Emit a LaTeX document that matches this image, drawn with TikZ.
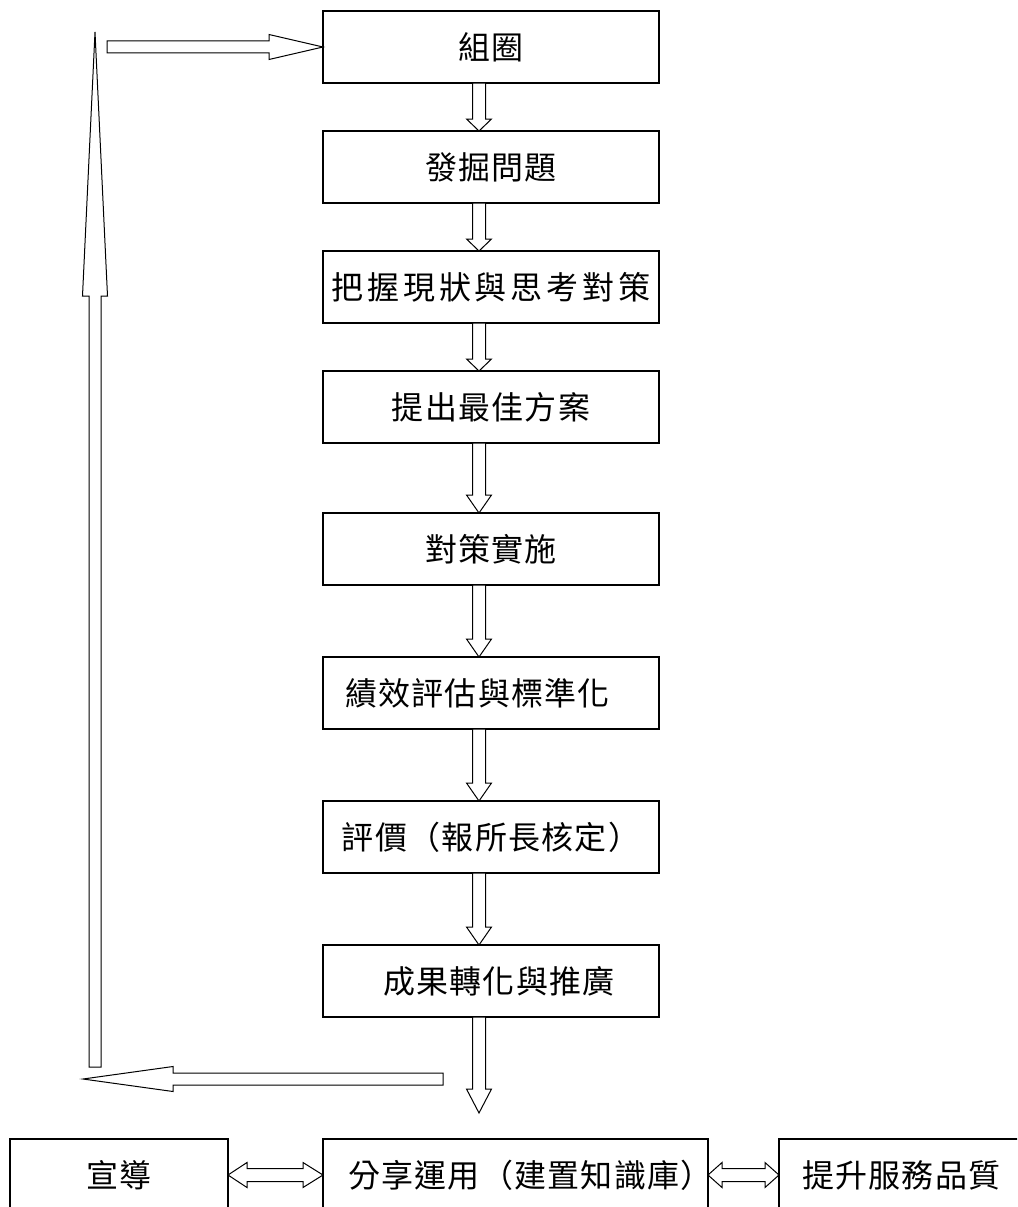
\documentclass[tikz,border=0pt]{standalone}
\usepackage{fontspec}
\newfontfamily\cjk[LetterSpace=4]{Noto Sans CJK TC}
\usetikzlibrary{calc}
\newcommand{\DownBlock}[3]{%
  \draw[blockarrow] let \p1=#1, \p2=#2 in
    (\x1-6.5pt,\y1) -- (\x1-6.5pt,\y2+#3pt) -- (\x1-12.5pt,\y2+#3pt) -- (\x2,\y2)
    -- (\x1+12.5pt,\y2+#3pt) -- (\x1+6.5pt,\y2+#3pt) -- (\x1+6.5pt,\y1) -- cycle;}
\newcommand{\UpBlock}[3]{%
  \draw[blockarrow] let \p1=#1, \p2=#2 in
    (\x1-6pt,\y1) -- (\x1-6pt,\y2-#3pt) -- (\x1-12.5pt,\y2-#3pt) -- (\x2,\y2)
    -- (\x1+12.5pt,\y2-#3pt) -- (\x1+6pt,\y2-#3pt) -- (\x1+6pt,\y1) -- cycle;}
\newcommand{\LeftBlock}[3]{%
  \draw[blockarrow] let \p1=#1, \p2=#2 in
    (\x1,\y1+6pt) -- (\x2+#3pt,\y1+6pt) -- (\x2+#3pt,\y1+12.5pt) -- (\x2,\y2)
    -- (\x2+#3pt,\y1-12.5pt) -- (\x2+#3pt,\y1-6pt) -- (\x1,\y1-6pt) -- cycle;}
\newcommand{\RightBlock}[3]{%
  \draw[blockarrow] let \p1=#1, \p2=#2 in
    (\x1,\y1+6pt) -- (\x2-#3pt,\y1+6pt) -- (\x2-#3pt,\y1+12.5pt) -- (\x2,\y2)
    -- (\x2-#3pt,\y1-12.5pt) -- (\x2-#3pt,\y1-6pt) -- (\x1,\y1-6pt) -- cycle;}
\newcommand{\DoubleBlock}[4]{%
  \draw[blockarrow] let \p1=#1, \p2=#2 in
    (\x1,\y1) -- (\x1+#3pt,\y1+12.5pt) -- (\x1+#3pt,\y1+6.5pt) -- (\x2-#4pt,\y1+6.5pt)
    -- (\x2-#4pt,\y1+12.5pt) -- (\x2,\y2) -- (\x2-#4pt,\y1-12.5pt) -- (\x2-#4pt,\y1-6.5pt)
    -- (\x1+#3pt,\y1-6.5pt) -- (\x1+#3pt,\y1-12.5pt) -- cycle;}
\begin{document}
\begin{tikzpicture}[x=1pt,y=-1pt,
  box/.style={draw, line width=1.1pt, minimum width=336pt, minimum height=72pt,
    inner sep=0pt, outer sep=0pt, font=\cjk\fontsize{32}{38}\selectfont},
  blockarrow/.style={draw, fill=white, line width=1pt, line join=miter}]
\path[use as bounding box] (0,0) rectangle (1017,1207);
\begin{scope}
\clip (0,0) rectangle (1017,1207);
\coordinate (ax) at (479,0);
\node[box] (b1) at (491,47) {組圈};
\node[box] (b2) at (491,167) {發掘問題};
\node[box] (b3) at (491,287) {{\addfontfeatures{LetterSpace=12}把握現狀與思考對策}};
\node[box] (b4) at (491,407) {提出最佳方案};
\node[box] (b5) at (491,549) {對策實施};
\node[box, align=left, text width=292pt, inner xsep=22pt] (b6) at (491,693) {績效評估與標準化};
\node[box] (b7) at (491,837) {評價（報所長核定）};
\node[box, align=left, text width=250pt, inner xsep=43pt] (b8) at (491,981) {\hspace*{17pt}成果轉化與推廣};
\node[box, minimum width=218pt] (c1) at (119,1175) {宣導};
\node[box, minimum width=385pt, align=left, text width=335pt, inner xsep=25pt] (c2) at (515.5,1175) {分享運用（建置知識庫）};
\node[box, minimum width=251pt, align=left, text width=205pt, inner xsep=23pt] (c3) at (904.5,1175) {提升服務品質};
\coordinate (t9) at (479,1113);
\coordinate (lt) at (443,1079);
\coordinate (lh) at (83,1079);
\coordinate (ut) at (95,1067);
\coordinate (uh) at (95,32);
\coordinate (rt) at (107,0);
\DownBlock{(b1.south -| ax)}{(b2.north -| ax)}{12}
\DownBlock{(b2.south -| ax)}{(b3.north -| ax)}{12}
\DownBlock{(b3.south -| ax)}{(b4.north -| ax)}{12}
\DownBlock{(b4.south -| ax)}{(b5.north -| ax)}{18}
\DownBlock{(b5.south -| ax)}{(b6.north -| ax)}{18}
\DownBlock{(b6.south -| ax)}{(b7.north -| ax)}{18}
\DownBlock{(b7.south -| ax)}{(b8.north -| ax)}{18}
\DownBlock{(b8.south -| ax)}{(t9)}{24}
\LeftBlock{(lt)}{(lh)}{90}
\UpBlock{(ut)}{(uh)}{264}
\RightBlock{(b1.west -| rt)}{(b1.west)}{54}
\DoubleBlock{(c1.east)}{(c2.west)}{19}{20}
\DoubleBlock{(c2.east)}{(c3.west)}{14}{14}
\end{scope}
\end{tikzpicture}
\end{document}
